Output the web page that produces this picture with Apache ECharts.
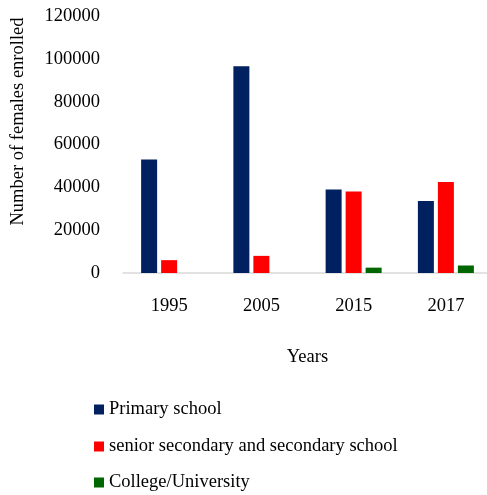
<!DOCTYPE html>
<html><head><meta charset="utf-8">
<script src="https://cdn.jsdelivr.net/npm/echarts@6/dist/echarts.min.js"></script>
<style>html,body{margin:0;padding:0;background:#fff}#c{width:487px;height:495px}</style>
</head><body><div id="c"></div>
<script>
const categories = ['1995', '2005', '2015', '2017'];
const primary = [53000, 96500, 39000, 33600];
const secondary = [6000, 8000, 38000, 42500];
const college = [0, 0, 2500, 3500];
const yTicks = [0, 20000, 40000, 60000, 80000, 100000, 120000];
const seriesNames = ['Primary school', 'senior secondary and secondary school', 'College/University'];

const font = '"Liberation Serif", "Times New Roman", serif';
const fs = 18.5;
const legendTops = [395, 432, 468];
const chart = echarts.init(document.getElementById('c'));
chart.setOption({
  animation: false,
  textStyle: {fontFamily: font},
  grid: {left: 123, right: -5, top: 16, bottom: 222, outerBoundsMode: 'none', containLabel: false},
  legend: seriesNames.map((n, i) => ({
    orient: 'vertical', left: 89, top: legendTops[i], itemWidth: 10, itemHeight: 10,
    icon: 'rect', data: [n],
    textStyle: {fontFamily: font, fontSize: fs, color: '#000'}
  })),
  xAxis: {
    type: 'category', data: categories,
    name: 'Years', nameLocation: 'middle', nameGap: 75,
    nameTextStyle: {fontFamily: font, fontSize: fs, color: '#000'},
    axisLine: {lineStyle: {color: '#d9d9d9', width: 1.5}},
    axisTick: {show: false},
    axisLabel: {fontFamily: font, fontSize: fs, color: '#000', margin: 24}
  },
  yAxis: {
    type: 'value', min: yTicks[0], max: yTicks[yTicks.length - 1], interval: 20000,
    name: 'Number of females enrolled', nameLocation: 'middle', nameGap: 95,
    nameTextStyle: {fontFamily: font, fontSize: fs, color: '#000', padding: [0, 0, 0, 46]},
    axisLine: {show: false}, axisTick: {show: false}, splitLine: {show: false},
    axisLabel: {fontFamily: font, fontSize: fs, color: '#000', margin: 23,
      formatter: v => String(v)}
  },
  series: [
    {name: seriesNames[0], type: 'bar', data: primary, barWidth: 16, barGap: '25%',
     itemStyle: {color: '#002060'}},
    {name: seriesNames[1], type: 'bar', data: secondary, barWidth: 16, barGap: '25%',
     itemStyle: {color: '#ff0000'}},
    {name: seriesNames[2], type: 'bar', data: college, barWidth: 16, barGap: '25%',
     itemStyle: {color: '#006600'}}
  ]
});
</script></body></html>
